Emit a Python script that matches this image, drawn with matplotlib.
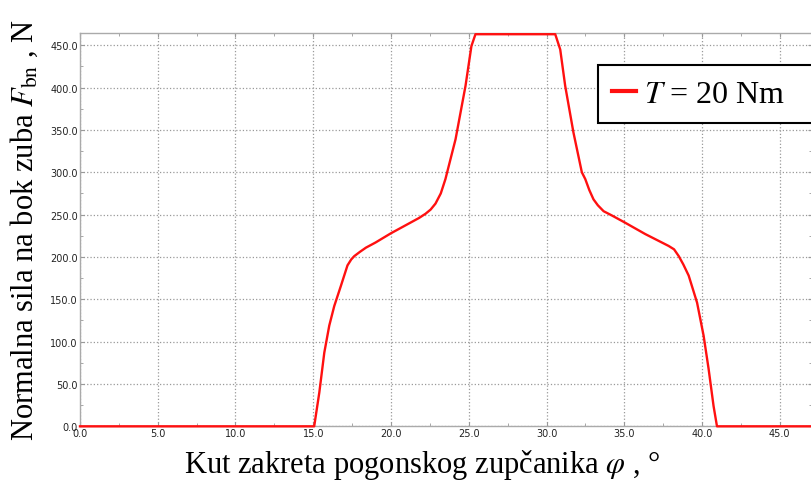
import matplotlib
matplotlib.use('Agg')
import matplotlib.pyplot as plt
from matplotlib.ticker import MultipleLocator, FormatStrFormatter

# kut zakreta pogonskog zupcanika, stupnjevi
phi = [0.0, 15.0, 15.06, 15.39, 15.71, 16.03, 16.35, 16.78, 17.2, 17.44, 17.64,
       18.0, 18.39, 19.0, 20.0, 21.0, 21.8, 22.22, 22.55, 22.86, 23.2, 23.5,
       24.15, 24.79, 25.17, 25.43, 30.56, 30.88, 31.2, 31.73, 32.27, 32.49,
       32.75, 33.02, 33.3, 33.67, 34.2, 35.0, 36.35, 37.85, 38.2, 38.5,
       38.8, 39.14, 39.68, 40.1, 40.42, 40.74, 40.96, 47.1]
# normalna sila na bok zuba, N
F_bn = [0, 0, 0, 40, 87, 119, 142, 166, 190, 197, 201,
        206, 211, 217, 228, 238, 246, 251, 256, 263, 275, 292,
        339, 402, 449, 463, 463, 445, 402, 347, 300, 292,
        279, 268, 261, 254, 249, 241, 227, 213, 209, 201,
        191, 178, 146, 107, 68, 24, 0, 0]

x_ticks = [0, 5, 10, 15, 20, 25, 30, 35, 40, 45]
y_ticks = [0, 50, 100, 150, 200, 250, 300, 350, 400, 450]
legend_label = r'$T$ = 20 Nm'

plt.rcParams['mathtext.fontset'] = 'stix'

fig = plt.figure(figsize=(8.12, 4.81), dpi=100)
ax = fig.add_axes([0.0985, 0.1116, 0.9015, 0.8187])

ax.plot(phi, F_bn, color='#ff1010', linewidth=1.7, label=legend_label, clip_on=False, zorder=3)

ax.set_xlim(0, 47.07)
ax.set_ylim(0, 465)
ax.set_xticks(x_ticks)
ax.set_yticks(y_ticks)
ax.xaxis.set_minor_locator(MultipleLocator(2.5))
ax.yaxis.set_minor_locator(MultipleLocator(25))
ax.xaxis.set_major_formatter(FormatStrFormatter('%.1f'))
ax.yaxis.set_major_formatter(FormatStrFormatter('%.1f'))

ax.tick_params(which='both', direction='in', top=True, right=True,
               colors='#999999', labelcolor='#222222', labelsize=7, pad=1.5)
ax.tick_params(which='major', length=3)
ax.tick_params(which='minor', length=2)
for s in ax.spines.values():
    s.set_color('#aaaaaa')
    s.set_linewidth(1.0)

ax.grid(which='major', linestyle=':', color='#999999', linewidth=0.9)

ax.set_ylabel(r'Normalna sila na bok zuba $F_{\mathrm{bn}}$ , N',
              fontfamily='Liberation Serif', fontsize=22)
ax.yaxis.set_label_coords(-0.0546, 0.5)
ax.set_xlabel(r'Kut zakreta pogonskog zupčanika $\varphi$ , °',
              fontfamily='Liberation Serif', fontsize=22)
ax.xaxis.set_label_coords(0.467, -0.052)
ax.xaxis.label.set_va('top')

# legenda se proteze preko desnog ruba slike
leg = ax.legend(loc='upper left', bbox_to_anchor=(0.7077, 0.5, 0.45, 0.4175),
                mode='expand', prop={'family': 'Liberation Serif', 'size': 23},
                frameon=True, fancybox=False, handlelength=0.75,
                handletextpad=0.25, borderpad=0.45, borderaxespad=0)
leg.get_frame().set_edgecolor('black')
leg.get_frame().set_linewidth(1.5)
leg.get_frame().set_alpha(1)
leg.get_lines()[0].set_linewidth(3)

fig.savefig('out.png', dpi=100)
